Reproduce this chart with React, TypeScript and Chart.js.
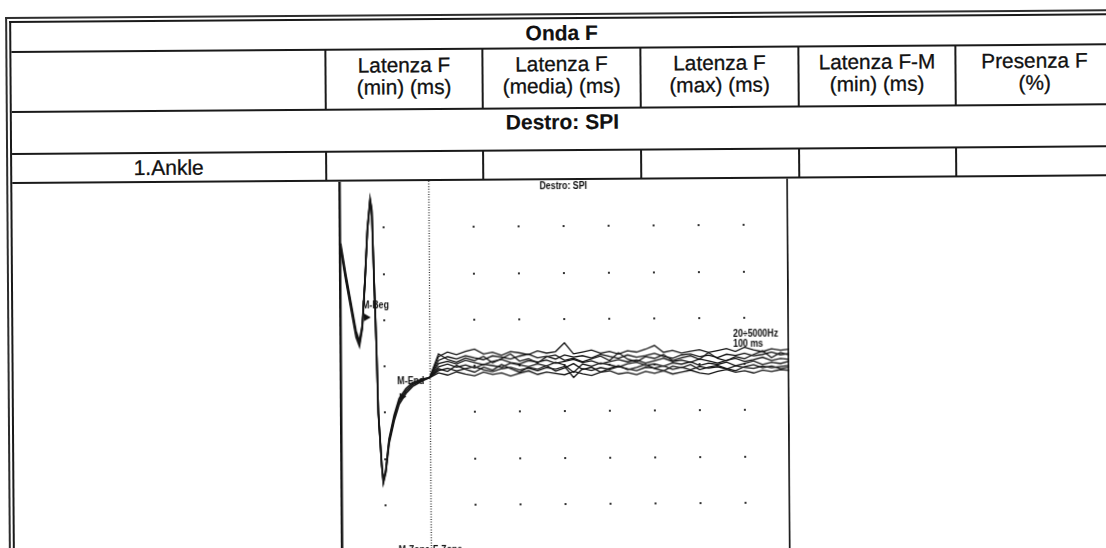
import React, { useEffect, useRef } from "react";
import { Chart, registerables } from "chart.js";

Chart.register(...registerables);

// ---------------- table texts ----------------
const TABLE_TITLE = "Onda F";
const HEADER_LINE_1 = ["Latenza F", "Latenza F", "Latenza F", "Latenza F-M", "Presenza F"];
const HEADER_LINE_2 = ["(min) (ms)", "(media) (ms)", "(max) (ms)", "(min) (ms)", "(%)"];
const SECTION_LABEL = "Destro: SPI";
const SITE_LABEL = "1.Ankle";
const SITE_VALUES = ["", "", "", "", ""];

// ---------------- trace data (time in ms, amplitude in divisions) ----------------
const CHART_TITLE = "Destro: SPI";
const X_GRID_MS = [10, 30, 40, 50, 60, 70, 80, 90];
const Y_GRID_DIV = [-3, -2, -1, 0, 1, 2, 3];
const M_ZONE_END_MS = 20;

const M_TIMES = [0.44, 1.51, 2.92, 3.72, 4.45, 5.12, 5.79, 6.39, 7.04, 7.39, 7.8, 8.22, 8.55, 9.22, 9.55, 10.11, 10.89, 12.05, 13.18, 14.7, 16.17, 18.4, 20];
const M_TRACE_A = [2.59, 1.94, 1.15, 0.7, 0.49, 0.86, 1.87, 2.95, 3.6, 3.38, 1.87, 0.43, -1.01, -2.13, -2.5, -2.27, -1.62, -1.12, -0.76, -0.54, -0.4, -0.3, -0.25];
const M_TRACE_B = [2.52, 1.87, 1.08, 0.63, 0.44, 0.82, 1.84, 2.93, 3.57, 3.35, 1.85, 0.41, -1.03, -2.15, -2.52, -2.3, -1.67, -1.18, -0.82, -0.59, -0.44, -0.32, -0.25];
const M_TRACE_C = [2.66, 2.01, 1.22, 0.77, 0.55, 0.9, 1.9, 2.98, 3.62, 3.4, 1.89, 0.45, -0.99, -2.11, -2.47, -2.24, -1.57, -1.06, -0.7, -0.49, -0.36, -0.28, -0.25];

const F_TIMES = [20, 22, 24, 26, 28, 30, 32, 34, 36, 38, 40, 42, 44, 46, 48, 50, 52, 54, 56, 58, 60, 62, 64, 66, 68, 70, 72, 74, 76, 78, 80, 82, 84, 86, 88, 90, 92, 94, 96, 98, 100];
const F_TRACE_1 = [-0.25, 0.2, 0.3, 0.24, 0.31, 0.36, 0.25, 0.29, 0.22, 0.3, 0.27, 0.23, 0.31, 0.26, 0.29, 0.48, 0.24, 0.28, 0.32, 0.25, 0.29, 0.23, 0.3, 0.27, 0.33, 0.41, 0.26, 0.3, 0.24, 0.28, 0.31, 0.25, 0.29, 0.33, 0.27, 0.36, 0.3, 0.26, 0.32, 0.29, 0.31];
const F_TRACE_2 = [-0.25, 0.12, 0.2, 0.15, 0.22, 0.17, 0.13, 0.21, 0.18, 0.14, 0.2, 0.24, 0.16, 0.19, 0.13, 0.22, 0.17, 0.2, 0.15, 0.23, 0.18, 0.14, 0.21, 0.16, 0.19, 0.24, 0.17, 0.13, 0.2, 0.22, 0.16, 0.19, 0.14, 0.21, 0.18, 0.23, 0.17, 0.2, 0.25, 0.19, 0.22];
const F_TRACE_3 = [-0.25, 0.05, 0.1, 0.04, 0.12, 0.07, 0.02, 0.09, 0.13, 0.06, 0.03, 0.1, 0.07, 0.11, 0.04, 0.08, 0.12, 0.05, 0.09, 0.02, 0.07, 0.11, 0.06, 0.1, 0.03, 0.08, 0.13, 0.06, 0.09, 0.04, 0.11, 0.07, 0.02, 0.08, 0.12, 0.05, 0.09, 0.14, 0.07, 0.11, 0.09];
const F_TRACE_4 = [-0.25, -0.02, 0.04, -0.03, 0.02, -0.05, 0.03, 0.0, -0.04, 0.05, 0.01, -0.03, 0.03, -0.02, 0.06, 0.0, -0.16, 0.02, -0.03, 0.04, 0.0, -0.05, 0.02, 0.05, -0.02, 0.01, -0.04, 0.03, 0.0, 0.05, -0.03, 0.02, -0.01, 0.04, -0.04, 0.01, 0.06, -0.02, 0.03, 0.0, 0.05];
const F_TRACE_5 = [-0.25, -0.1, -0.05, -0.11, -0.06, -0.02, -0.09, -0.13, -0.07, -0.04, -0.1, -0.06, -0.12, -0.05, -0.09, -0.03, -0.27, -0.08, -0.12, -0.06, -0.1, -0.04, -0.09, -0.13, -0.06, -0.08, -0.03, -0.11, -0.07, -0.12, -0.05, -0.09, -0.06, -0.11, -0.04, -0.08, -0.1, -0.05, -0.09, -0.06, -0.04];
const F_TRACE_6 = [-0.25, -0.15, -0.2, -0.13, -0.18, -0.22, -0.14, -0.19, -0.16, -0.23, -0.17, -0.12, -0.2, -0.15, -0.18, -0.21, -0.14, -0.19, -0.23, -0.16, -0.13, -0.2, -0.17, -0.22, -0.15, -0.19, -0.14, -0.21, -0.17, -0.13, -0.19, -0.22, -0.16, -0.12, -0.18, -0.15, -0.2, -0.14, -0.17, -0.13, -0.15];
const F_TRACE_7 = [-0.25, 0.26, 0.14, 0.08, 0.17, 0.11, 0.2, 0.06, 0.15, 0.25, 0.09, 0.14, 0.05, 0.18, 0.22, 0.1, 0.15, 0.07, 0.13, 0.19, 0.09, 0.26, 0.12, 0.06, 0.17, 0.13, 0.21, 0.08, 0.14, 0.18, 0.1, 0.25, 0.12, 0.07, 0.16, 0.11, 0.2, 0.28, 0.13, 0.24, 0.18];
const F_TRACE_8 = [-0.25, -0.06, -0.12, 0.01, -0.08, -0.14, -0.03, -0.1, 0.02, -0.07, -0.15, -0.04, -0.09, -0.01, -0.13, -0.06, 0.03, -0.1, -0.05, -0.16, -0.08, -0.02, -0.11, -0.06, 0.0, -0.09, -0.14, -0.04, -0.08, -0.01, -0.12, -0.07, -0.03, -0.1, -0.15, -0.06, -0.02, -0.09, -0.05, -0.11, -0.08];

const MARKER_TIMES = [6.0, 13.8];
const MARKER_VALUES = [1.06, -0.66];
const MARKER_LABELS = ["M-Beg", "M-End"];
const MARKER_LABEL_TIMES = [5.1, 12.8];
const MARKER_LABEL_VALUES = [1.31, -0.32];
const SETTINGS_TEXT = ["20÷5000Hz", "100 ms"];
const SETTINGS_TIME = 87.5;
const SETTINGS_VALUES = [0.65, 0.42];
const ZONE_LABELS = ["M-Zone", "F-Zone"];
const ZONE_LABEL_VALUE = -3.87;

// ---------------- helpers ----------------
const pts = (xs: number[], ys: number[]) => xs.map((x, i) => ({ x, y: ys[i] }));
const INK = "#151515";
const SMALL_FONT = "bold 10.5px 'Liberation Sans', Arial, sans-serif";
const NARROW = 0.84;

function narrowText(ctx: CanvasRenderingContext2D, s: string, x: number, y: number, align: "left" | "right" | "center") {
  ctx.save();
  ctx.translate(x, y);
  ctx.scale(NARROW, 1);
  ctx.textAlign = align;
  ctx.fillText(s, 0, 0);
  ctx.restore();
}

const emgDecor = {
  id: "emgDecor",
  beforeDatasetsDraw(chart: any) {
    const { ctx, chartArea, scales } = chart;
    const xs = scales.x;
    const ys = scales.y;
    ctx.save();
    // grid dots
    ctx.fillStyle = "#333";
    for (const t of X_GRID_MS) {
      for (const v of Y_GRID_DIV) {
        const px = Math.round(xs.getPixelForValue(t));
        const py = Math.round(ys.getPixelForValue(v));
        ctx.fillRect(px - 1, py - 1, 2, 2);
      }
    }
    // M-zone / F-zone divider
    const zx = Math.round(xs.getPixelForValue(M_ZONE_END_MS)) + 0.5;
    ctx.strokeStyle = "#2a2a2a";
    ctx.lineWidth = 1.3;
    ctx.setLineDash([1, 1.6]);
    ctx.beginPath();
    ctx.moveTo(zx, chartArea.top);
    ctx.lineTo(zx, chartArea.bottom);
    ctx.stroke();
    ctx.setLineDash([]);
    // frame
    ctx.fillStyle = INK;
    const h = chartArea.bottom - chartArea.top;
    ctx.fillRect(chartArea.left, chartArea.top, 2.5, h);
    ctx.fillRect(chartArea.right - 2, chartArea.top, 1.8, h);
    // texts
    ctx.font = SMALL_FONT;
    ctx.fillStyle = "#111";
    ctx.textBaseline = "middle";
    narrowText(ctx, CHART_TITLE, (chartArea.left + chartArea.right) / 2, chartArea.top + 6, "center");
    MARKER_LABELS.forEach((s, i) => {
      narrowText(ctx, s, xs.getPixelForValue(MARKER_LABEL_TIMES[i]), ys.getPixelForValue(MARKER_LABEL_VALUES[i]), "left");
    });
    SETTINGS_TEXT.forEach((s, i) => {
      narrowText(ctx, s, xs.getPixelForValue(SETTINGS_TIME), ys.getPixelForValue(SETTINGS_VALUES[i]), "left");
    });
    ctx.textBaseline = "top";
    narrowText(ctx, ZONE_LABELS[0], zx - 1.5, ys.getPixelForValue(ZONE_LABEL_VALUE), "right");
    narrowText(ctx, ZONE_LABELS[1], zx + 1.5, ys.getPixelForValue(ZONE_LABEL_VALUE), "left");
    ctx.restore();
  },
};

function EmgChart() {
  const ref = useRef<HTMLCanvasElement>(null);
  useEffect(() => {
    if (!ref.current) return;
    const mLine = (d: number[]) => ({
      data: pts(M_TIMES, d),
      borderColor: INK,
      borderWidth: 1.7,
      pointRadius: 0,
      tension: 0,
    });
    const fLine = (d: number[]) => ({
      data: pts(F_TIMES, d),
      borderColor: INK,
      borderWidth: 1.3,
      pointRadius: 0,
      tension: 0,
    });
    const chart = new Chart(ref.current, {
      type: "line",
      data: {
        datasets: [
          mLine(M_TRACE_A),
          mLine(M_TRACE_B),
          mLine(M_TRACE_C),
          fLine(F_TRACE_1),
          fLine(F_TRACE_2),
          fLine(F_TRACE_3),
          fLine(F_TRACE_4),
          fLine(F_TRACE_5),
          fLine(F_TRACE_6),
          fLine(F_TRACE_7),
          fLine(F_TRACE_8),
          {
            data: pts(MARKER_TIMES, MARKER_VALUES),
            showLine: false,
            pointStyle: "triangle",
            rotation: 90,
            pointRadius: 4.5,
            pointHoverRadius: 4.5,
            backgroundColor: "#111",
            borderColor: "#111",
            borderWidth: 0,
          },
        ] as any,
      },
      options: {
        animation: false,
        responsive: false,
        devicePixelRatio: 1,
        layout: { padding: 0, autoPadding: false },
        events: [],
        scales: {
          x: { type: "linear", min: 0, max: 100, display: false },
          y: { type: "linear", min: -4, max: 4, display: false },
        },
        plugins: { legend: { display: false }, tooltip: { enabled: false } },
      } as any,
      plugins: [emgDecor],
    });
    return () => chart.destroy();
  }, []);
  return (
    <canvas
      ref={ref}
      width={450}
      height={370}
      style={{ position: "absolute", left: 337, top: 184, width: 450, height: 370 }}
    />
  );
}

// ---------------- layout ----------------
const COL_X = [325, 482, 640, 798, 955, 1113];
const ROW_Y = [52, 112, 154, 183];
const FONT = "'Liberation Sans', Arial, Helvetica, sans-serif";
const LINE = "#1a1a1a";

const txt = (left: number, top: number, width: number, lh: number, size: number, bold: boolean): React.CSSProperties => ({
  position: "absolute",
  left,
  top,
  width,
  lineHeight: lh + "px",
  fontSize: size,
  fontWeight: bold ? 700 : 400,
  fontFamily: FONT,
  textAlign: "center",
  color: "#111",
  whiteSpace: "nowrap",
  WebkitTextStroke: bold ? "0.15px #111" : "0.3px #111",
});

const box = (left: number, top: number, width: number, height: number, bg: string): React.CSSProperties => ({
  position: "absolute",
  left,
  top,
  width,
  height,
  background: bg,
});

export default function App() {
  const lines: React.ReactNode[] = [];
  // outer double border
  lines.push(<div key="ol" style={box(5, 16.7, 2.2, 620, "#2e2e2e")} />);
  lines.push(<div key="ot" style={box(5, 16.7, 1120, 2.2, "#2e2e2e")} />);
  lines.push(<div key="il" style={box(9, 21, 1.8, 620, LINE)} />);
  lines.push(<div key="it" style={box(9, 21, 1115, 1.8, LINE)} />);
  ROW_Y.forEach((y, i) => lines.push(<div key={"r" + i} style={box(10.5, y - 1, 1110, 2, LINE)} />));
  COL_X.forEach((x, i) => {
    lines.push(<div key={"ch" + i} style={box(x - 1, ROW_Y[0], 2, ROW_Y[1] - ROW_Y[0], LINE)} />);
    lines.push(<div key={"ca" + i} style={box(x - 1, ROW_Y[2], 2, ROW_Y[3] - ROW_Y[2], LINE)} />);
  });

  return (
    <div
      style={{
        position: "fixed",
        left: 0,
        top: 0,
        width: 1106,
        height: 548,
        overflow: "hidden",
        background: "#ffffff",
      }}
    >
      <div
        style={{
          position: "absolute",
          left: 0,
          top: 0,
          width: 1200,
          height: 640,
          transform: "rotate(-0.4deg)",
          transformOrigin: "0 0",
        }}
      >
        {lines}
        <div style={txt(10, 25, 1103, 24, 21, true)}>{TABLE_TITLE}</div>
        {HEADER_LINE_1.map((h, i) => (
          <div key={"h" + i} style={txt(COL_X[i], 57, COL_X[i + 1] - COL_X[i], 22, 20.8, false)}>
            <div>{h}</div>
            <div>{HEADER_LINE_2[i]}</div>
          </div>
        ))}
        <div style={txt(10, 114, 1103, 24, 21, true)}>{SECTION_LABEL}</div>
        <div style={txt(10, 156.5, COL_X[0] - 10, 24, 21, false)}>{SITE_LABEL}</div>
        {SITE_VALUES.map((v, i) => (
          <div key={"v" + i} style={txt(COL_X[i], 156.5, COL_X[i + 1] - COL_X[i], 24, 21, false)}>
            {v}
          </div>
        ))}
        <EmgChart />
      </div>
    </div>
  );
}
